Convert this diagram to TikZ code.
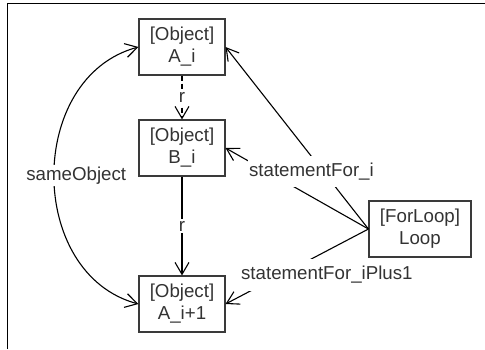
\documentclass[tikz,border=0pt]{standalone}
\usepackage{fontspec}
\setmainfont{Liberation Sans}
\usetikzlibrary{arrows.meta}
\definecolor{txtgray}{HTML}{333333}
\definecolor{boxgray}{HTML}{3A3A3A}

\begin{document}
\begin{tikzpicture}[x=1pt, y=1pt, line width=1.1pt,
    >={Straight Barb[length=12pt,width=14pt]},
    font=\fontsize{18.7}{22}\selectfont,
    obj/.style={draw=boxgray, text=txtgray, align=center,
      minimum width=86pt, minimum height=56pt, inner sep=0pt},
    lbl/.style={fill=white, text=txtgray, inner xsep=1pt, inner ysep=7pt}]
      \useasboundingbox (0,0) rectangle (485,-349);
      \draw (7.3,-349) -- (7.3,-3.3) -- (485,-3.3);
      \foreach \n/\y/\t in {ai/47/A\_i, bi/148/B\_i, ainext/304/A\_i+1} {
        \node[obj] (\n) at (182,-\y) {[Object]\\\t};
      }
      \node[obj, minimum width=102pt] (loop) at (420,-229) {[ForLoop]\\Loop};
      \draw[->, dash pattern=on 5pt off 3pt] (ai) -- node[lbl, inner ysep=2pt] {r} (bi);
      \draw[->] (bi) -- node[lbl, inner ysep=2pt] {r} (ainext);
      \draw[<->] (ai.west) to[out=195, in=165, looseness=1.16]
        node[lbl, xshift=22pt, inner ysep=2pt] {sameObject} (ainext.west);
      \draw[->] (loop.west) -- (bi.east);
      \draw[->] (loop.west) -- node[lbl, pos=0.315, xshift=-12pt] {statementFor\_i} (ai.east);
      \draw[->] (loop.west) -- node[lbl, pos=0.613, xshift=46pt] {statementFor\_iPlus1} (ainext.east);
    \end{tikzpicture}
\end{document}
